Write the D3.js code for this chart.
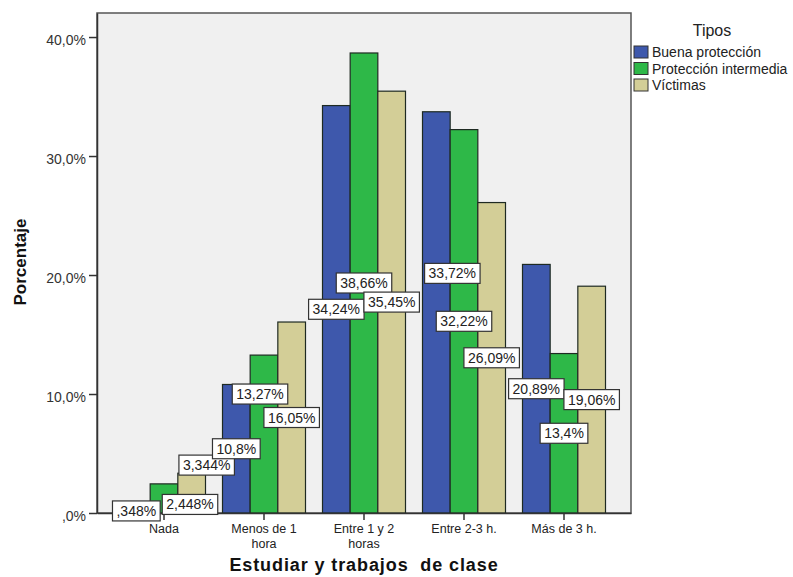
<!DOCTYPE html>
<html>
<head>
<meta charset="utf-8">
<script src="https://cdn.jsdelivr.net/npm/d3@7"></script>
<style>
  html, body { margin: 0; padding: 0; background: #ffffff; }
  svg { display: block; font-family: "Liberation Sans", Arial, sans-serif; }
</style>
</head>
<body>
<svg id="chart" width="793" height="577"></svg>
<script>
// ---------- data ----------
const categories = ["Nada", "Menos de 1\nhora", "Entre 1 y 2\nhoras", "Entre 2-3 h.", "Más de 3 h."];
const seriesNames = ["Buena protección", "Protección intermedia", "Víctimas"];
const buenaProteccion = [0.348, 10.8, 34.24, 33.72, 20.89];
const proteccionIntermedia = [2.448, 13.27, 38.66, 32.22, 13.4];
const victimas = [3.344, 16.05, 35.45, 26.09, 19.06];
const yTickValues = [0, 10, 20, 30, 40];
const yTickLabels = [",0%", "10,0%", "20,0%", "30,0%", "40,0%"];
const yTitle = "Porcentaje";
const xTitle = "Estudiar y trabajos  de clase";
const legendTitle = "Tipos";

// ---------- layout / style ----------
const colors = ["#3e58ac", "#2eb848", "#d3ce97"];
const seriesValues = [buenaProteccion, proteccionIntermedia, victimas];
// label nudges (px) used by the chart software to avoid overlapping labels: key "series-category"
const labelNudge = { "1-0": [26, 6], "2-0": [15, -28], "1-1": [-4, -40], "0-3": [16, -39] };

const svg = d3.select("#chart");
const plot = { left: 97, right: 631, top: 13, bottom: 513 };

const x0 = d3.scaleBand().domain(categories).range([plot.left, plot.right])
  .paddingInner(0.17).paddingOuter(0.255);
const x1 = d3.scaleBand().domain(seriesNames).range([0, x0.bandwidth()]).padding(0);
const y = d3.scaleLinear().domain([0, 42.02]).range([plot.bottom, plot.top]);

// plot background
svg.append("rect")
  .attr("x", plot.left).attr("y", plot.top)
  .attr("width", plot.right - plot.left).attr("height", plot.bottom - plot.top)
  .attr("fill", "#f0f0f0").attr("stroke", "#555").attr("stroke-width", 1.5);

// bars
const rows = [];
categories.forEach((c, ci) => {
  seriesNames.forEach((s, si) => rows.push({ c, ci, s, si, v: seriesValues[si][ci] }));
});

svg.append("g").selectAll("rect").data(rows).join("rect")
  .attr("x", d => x0(d.c) + x1(d.s))
  .attr("y", d => y(d.v))
  .attr("width", x1.bandwidth())
  .attr("height", d => y(0) - y(d.v))
  .attr("fill", d => colors[d.si])
  .attr("stroke", "#1e2a22").attr("stroke-width", 1.2);

// y axis
const yAxis = svg.append("g").attr("transform", `translate(${plot.left},0)`)
  .call(d3.axisLeft(y).tickValues(yTickValues).tickFormat((d, i) => yTickLabels[i])
    .tickSize(8).tickSizeOuter(0).tickPadding(3));
yAxis.select(".domain").attr("stroke", "#333").attr("stroke-width", 1.5);
yAxis.selectAll(".tick line").attr("stroke", "#333").attr("stroke-width", 1.5);
yAxis.selectAll(".tick text").attr("font-size", 14).attr("fill", "#333")
  .attr("font-family", "Liberation Sans, Arial, sans-serif").attr("dy", "0.5em");

// x axis
const xAxis = svg.append("g").attr("transform", `translate(0,${plot.bottom})`)
  .call(d3.axisBottom(x0).tickSize(7).tickSizeOuter(0).tickPadding(4));
xAxis.select(".domain").attr("stroke", "#333").attr("stroke-width", 1.5);
xAxis.selectAll(".tick line").attr("stroke", "#333").attr("stroke-width", 1.5);
xAxis.selectAll(".tick text").each(function (d) {
  const t = d3.select(this);
  t.text(null).attr("font-size", 12.5).attr("fill", "#222")
    .attr("font-family", "Liberation Sans, Arial, sans-serif").attr("dy", null).attr("y", 20);
  d.split("\n").forEach((line, i) => {
    t.append("tspan").attr("x", 0).attr("dy", i === 0 ? 0 : 14.5).text(line);
  });
});

// value labels
const fmt = v => String(v).replace(".", ",").replace(/^0,/, ",") + "%";
const labelG = svg.append("g");
rows.forEach(d => {
  const nudge = labelNudge[d.si + "-" + d.ci] || [0, 0];
  const cx = x0(d.c) + x1(d.s) + x1.bandwidth() / 2 + nudge[0];
  const cy = y(d.v / 2) + nudge[1];
  const g = labelG.append("g");
  const rect = g.append("rect");
  const txt = g.append("text").attr("x", cx).attr("y", cy).attr("dy", "0.36em")
    .attr("text-anchor", "middle").attr("font-size", 14).attr("fill", "#222")
    .text(fmt(d.v));
  const w = txt.node().getComputedTextLength() + 8;
  rect.attr("x", cx - w / 2).attr("y", cy - 10).attr("width", w).attr("height", 20)
    .attr("fill", "#ffffff").attr("stroke", "#333").attr("stroke-width", 1.2);
});

// axis titles
svg.append("text")
  .attr("transform", `translate(26,262) rotate(-90)`)
  .attr("text-anchor", "middle").attr("font-size", 17).attr("font-weight", "bold").attr("fill", "#111")
  .text(yTitle);
svg.append("text")
  .attr("x", 364).attr("y", 571).attr("text-anchor", "middle")
  .attr("font-size", 18).attr("font-weight", "bold").attr("fill", "#111")
  .attr("letter-spacing", 0.9).style("white-space", "pre")
  .text(xTitle);

// legend
const lg = svg.append("g");
lg.append("text").attr("x", 712).attr("y", 36).attr("text-anchor", "middle")
  .attr("font-size", 16).attr("fill", "#222").text(legendTitle);
seriesNames.forEach((s, i) => {
  const yy = 46 + i * 16.5;
  lg.append("rect").attr("x", 634).attr("y", yy).attr("width", 14).attr("height", 12)
    .attr("fill", colors[i]).attr("stroke", "#333").attr("stroke-width", 1);
  lg.append("text").attr("x", 652).attr("y", yy + 6).attr("dy", "0.36em")
    .attr("font-size", 14).attr("fill", "#222").text(s);
});
</script>
</body>
</html>
